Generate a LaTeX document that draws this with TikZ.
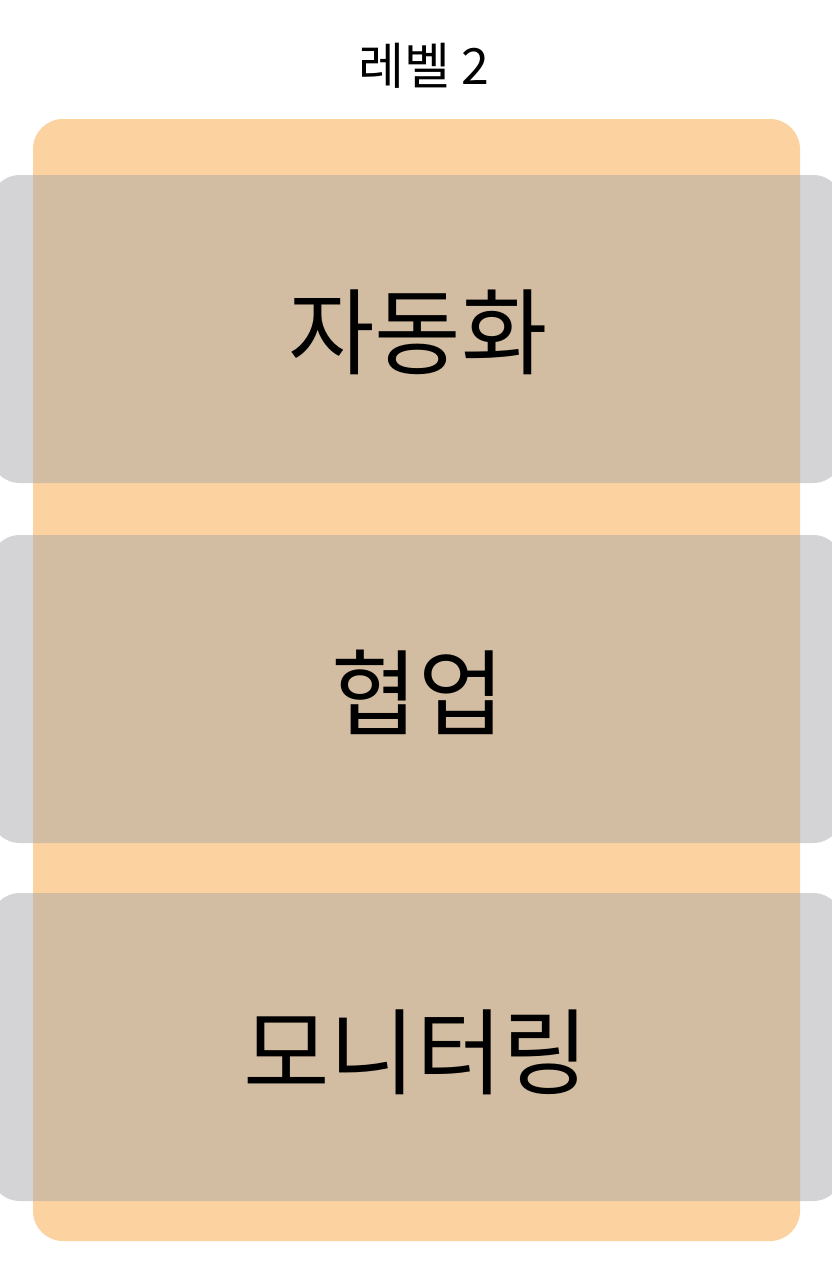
\documentclass[tikz,border=0pt]{standalone}
\usepackage{fontspec}
\newfontfamily\kr{Noto Sans CJK KR}
\definecolor{orangefill}{RGB}{252,211,160}
\definecolor{grayfill}{RGB}{160,160,165}
\tikzset{
  panel/.style={fill=orangefill, draw=none, rounded corners=30pt},
  band/.style={fill=grayfill, fill opacity=0.45, draw=none, rounded corners=30pt},
  biglabel/.style={font=\kr\fontsize{94}{100}\selectfont, text=black},
  titlelabel/.style={font=\kr\fontsize{50}{54}\selectfont, text=black}
}
\begin{document}
\begin{tikzpicture}[x=1pt,y=-1pt]
\useasboundingbox (0,0) rectangle (832,1280);
\fill[white] (0,0) rectangle (832,1280);
\node[titlelabel] (title) at (424,66) {레벨 2};
\path[panel] (33,119) rectangle (800,1241);
\path[band] (-10,175) rectangle (843,483);
\path[band] (-10,535) rectangle (843,843);
\path[band] (-10,893) rectangle (843,1201);
\node[biglabel] (auto) at (418,332) {자동화};
\node[biglabel] (collab) at (418,692) {협업};
\node[biglabel] (monitor) at (416,1052) {모니터링};
\end{tikzpicture}
\end{document}
